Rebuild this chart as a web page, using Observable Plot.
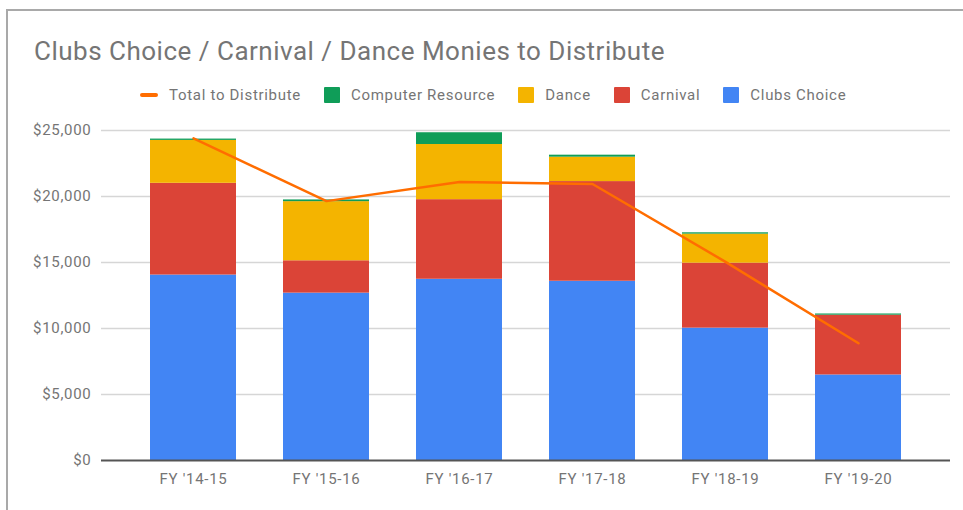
<!DOCTYPE html>
<html><head><meta charset="utf-8">
<script src="https://cdn.jsdelivr.net/npm/d3@7"></script>
<script src="https://cdn.jsdelivr.net/npm/@observablehq/plot@0.6"></script>
<style>
body{margin:0;background:#fff;font-family:Roboto,"Noto Sans",sans-serif;}
#wrap{position:relative;width:963px;height:510px;overflow:hidden;background:#fff;}
#frame{position:absolute;left:6px;top:9px;width:980px;height:520px;border-left:2px solid #a9a9a9;border-top:2px solid #a9a9a9;}
#title{position:absolute;left:34px;top:35px;font-size:26px;letter-spacing:0.5px;line-height:32px;color:#757575;white-space:nowrap;}
#legend{position:absolute;left:140px;top:86px;height:18px;display:flex;align-items:center;gap:23px;font-size:15px;letter-spacing:0.7px;color:#757575;white-space:nowrap;}
.item{display:flex;align-items:center;gap:11px;}
.sw{width:16px;height:16px;border-radius:1px;}
.ln{width:18px;height:4px;border-radius:2px;}
#chart{position:absolute;left:0;top:115px;}
#chart svg text{letter-spacing:0.7px;}
</style></head>
<body><div id="wrap"><div id="frame"></div><div id="title"></div><div id="legend"></div><div id="chart"></div></div>
<script>
const titleText = "Clubs Choice / Carnival / Dance Monies to Distribute";
const years = ["FY '14-15","FY '15-16","FY '16-17","FY '17-18","FY '18-19","FY '19-20"];
const clubsChoice = [14050, 12680, 13730, 13580, 10030, 6480];
const carnival = [6950, 2450, 6030, 7550, 4920, 4530];
const dance = [3250, 4480, 4180, 1850, 2200, 0];
const computerResource = [100, 130, 890, 150, 100, 90];
const totalToDistribute = [24400, 19650, 21100, 20950, 15050, 8880];
const seriesNames = ["Clubs Choice","Carnival","Dance","Computer Resource"];
const seriesColors = ["#4285F4","#DB4437","#F4B400","#0F9D58"];
const lineName = "Total to Distribute";
const lineColor = "#FF6D00";
const yTicks = [0,5000,10000,15000,20000,25000];

document.getElementById("title").textContent = titleText;

const legend = document.getElementById("legend");
const legendItems = [{name:lineName,color:lineColor,line:true}]
  .concat(seriesNames.map((n,i)=>({name:n,color:seriesColors[i]})).reverse());
for (const it of legendItems) {
  const d = document.createElement("div"); d.className="item";
  const s = document.createElement("span"); s.className = it.line ? "ln" : "sw"; s.style.background = it.color;
  const t = document.createElement("span"); t.textContent = it.name;
  d.appendChild(s); d.appendChild(t); legend.appendChild(d);
}

const seriesValues = [clubsChoice, carnival, dance, computerResource];
const data = years.flatMap((yr,i)=>seriesNames.map((s,j)=>({year:yr, series:s, value:seriesValues[j][i]})));
const lineData = years.map((yr,i)=>({year:yr, total:totalToDistribute[i]}));
const fmt = d => "$" + d3.format(",")(d);

const chart = Plot.plot({
  width:963, height:395, marginTop:15, marginBottom:50, marginLeft:101, marginRight:13,
  style:{fontFamily:"Roboto, sans-serif", fontSize:"15px", color:"#757575", background:"transparent", overflow:"visible"},
  x:{domain:years, padding:0.35, label:null, tickSize:0, tickPadding:13},
  y:{domain:[0,25000], ticks:yTicks, tickFormat:fmt, label:null, tickSize:0, tickPadding:10},
  color:{domain:seriesNames, range:seriesColors},
  marks:[
    Plot.ruleY(yTicks.slice(1), {stroke:"#d6d6d6", strokeWidth:1.5}),
    Plot.barY(data, {x:"year", y:"value", fill:"series"}),
    Plot.ruleY([0], {stroke:"#555", strokeWidth:2}),
    Plot.line(lineData, {x:"year", y:"total", stroke:lineColor, strokeWidth:2.5})
  ]
});
document.getElementById("chart").appendChild(chart);
</script></body></html>
